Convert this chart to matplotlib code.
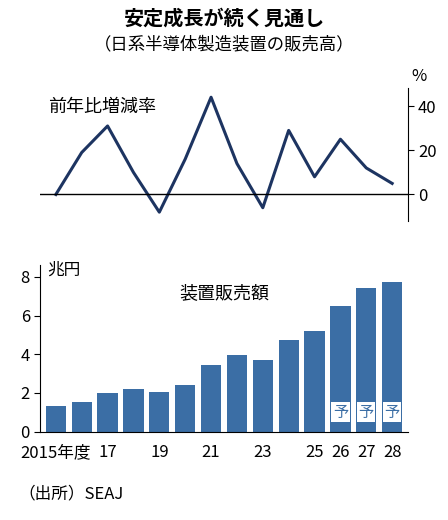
import matplotlib.pyplot as plt
import numpy as np

plt.rcParams['font.family'] = ['Noto Sans CJK JP', 'DejaVu Sans']

years = list(range(2015, 2029))
growth = [0, 19, 31, 10, -8, 16, 44, 14, -6, 29, 8, 25, 12, 5]
sales = [1.3, 1.55, 2.0, 2.2, 2.07, 2.4, 3.45, 3.95, 3.7, 4.75, 5.2, 6.5, 7.4, 7.75]
xlabels = ["2015年度", "", "17", "", "19", "", "21", "", "23", "", "25", "26", "27", "28"]
forecast = [2026, 2027, 2028]

fig = plt.figure(figsize=(4.48, 5.2), dpi=100)
fig.text(0.5, 0.965, "安定成長が続く見通し", ha="center", va="center", fontsize=14.5, fontweight="bold")
fig.text(0.5, 0.915, "（日系半導体製造装置の販売高）", ha="center", va="center", fontsize=12.5)

# top: growth rate
ax1 = fig.add_axes([0.09, 0.575, 0.82, 0.255])
x = np.arange(len(years))
ax1.plot(x, growth, color="#1d3461", lw=2.2)
ax1.axhline(0, color="black", lw=1)
ax1.set_xlim(-0.6, len(years) - 0.4)
ax1.set_ylim(-12, 48)
ax1.yaxis.tick_right()
ax1.set_yticks([0, 20, 40])
ax1.tick_params(axis="y", labelsize=12, length=4)
ax1.set_xticks([])
for s in ["top", "left", "bottom"]:
    ax1.spines[s].set_visible(False)
ax1.text(0.02, 0.93, "前年比増減率", transform=ax1.transAxes, fontsize=13, va="top")
fig.text(0.935, 0.845, "%", fontsize=12, ha="center")

# bottom: sales
ax2 = fig.add_axes([0.09, 0.17, 0.82, 0.32])
ax2.bar(x, sales, width=0.78, color="#3b6ea5")
ax2.set_xlim(-0.6, len(years) - 0.4)
ax2.set_ylim(0, 8.6)
ax2.set_yticks([0, 2, 4, 6, 8])
ax2.set_xticks(x)
ax2.set_xticklabels(xlabels)
ax2.tick_params(axis="both", labelsize=12, length=4)
ax2.tick_params(axis="x", length=0, pad=9)
for s in ["top", "right"]:
    ax2.spines[s].set_visible(False)
for y in forecast:
    i = years.index(y)
    ax2.text(i, 1.0, "予", ha="center", va="center", fontsize=11, color="#3b6ea5",
             bbox=dict(boxstyle="square,pad=0.1", fc="white", ec="none"))
ax2.text(0.02, 1.02, "兆円", transform=ax2.transAxes, fontsize=12, va="top")
ax2.text(0.5, 0.8, "装置販売額", transform=ax2.transAxes, fontsize=13, ha="center")

fig.text(0.04, 0.05, "（出所）SEAJ", fontsize=12, va="center")
fig.savefig("out.png", dpi=100)
